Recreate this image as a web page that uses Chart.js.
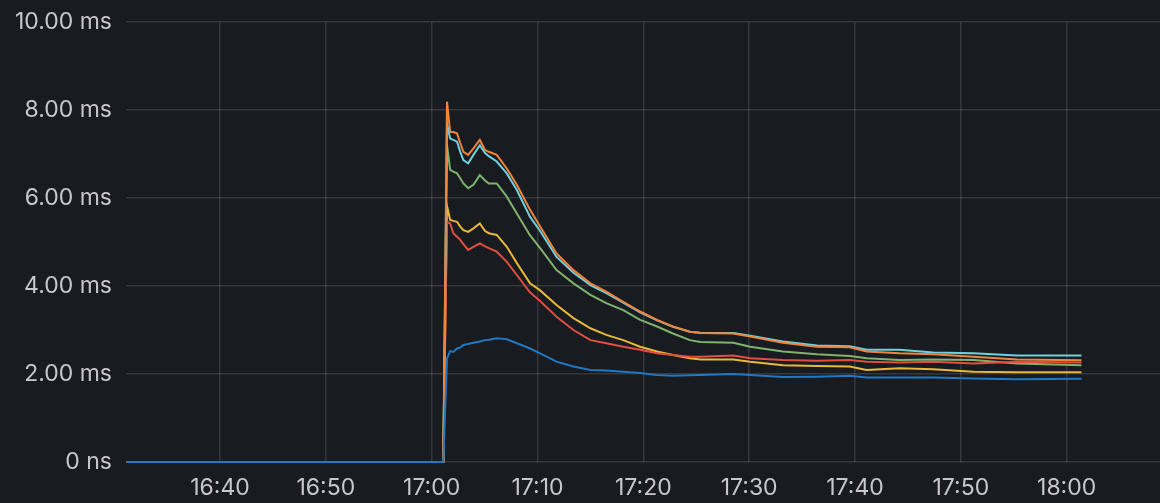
<!DOCTYPE html>
<html>
<head>
<meta charset="utf-8">
<script src="https://cdn.jsdelivr.net/npm/chart.js@4"></script>
<style>
  html, body { margin: 0; padding: 0; background: #181b1f; }
  canvas { display: block; }
</style>
</head>
<body>
<canvas id="latencyChart" width="1160" height="503"></canvas>
<script>
// minutes after 16:00
const minutes = [31.2, 61.1, 61.45, 61.75, 62.05, 62.4, 62.7, 63.0, 63.45, 63.95, 64.55, 65.05, 65.4, 66.15,
  67.1, 68.05, 69.3, 70.25, 71.8, 73.4, 75.0, 76.5, 78.1, 79.7, 81.3, 82.8, 84.4, 85.4, 88.5, 90.1,
  93.2, 96.4, 99.5, 101.1, 104.2, 107.4, 111.2, 115.3, 121.4];

// values in ms
const seriesOrange = [0, 0, 8.19, 7.5, 7.5, 7.47, 7.25, 7.05, 6.98, 7.13, 7.32, 7.09, 7.05, 6.98,
  6.67, 6.3, 5.73, 5.35, 4.74, 4.36, 4.06, 3.87, 3.64, 3.42, 3.23, 3.08, 2.96, 2.93, 2.92, 2.85,
  2.71, 2.62, 2.61, 2.51, 2.47, 2.45, 2.39, 2.33, 2.31];
const seriesLightBlue = [0, 0, 7.7, 7.35, 7.32, 7.28, 7.05, 6.86, 6.79, 6.98, 7.2, 7.02, 6.95, 6.83,
  6.56, 6.18, 5.57, 5.25, 4.66, 4.3, 4.02, 3.84, 3.62, 3.4, 3.22, 3.07, 2.96, 2.94, 2.93, 2.87,
  2.74, 2.65, 2.63, 2.55, 2.55, 2.49, 2.47, 2.42, 2.42];
const seriesGreen = [0, 0, 7.2, 6.64, 6.6, 6.56, 6.45, 6.33, 6.22, 6.3, 6.52, 6.4, 6.33, 6.33,
  6.03, 5.65, 5.15, 4.86, 4.36, 4.06, 3.8, 3.61, 3.45, 3.23, 3.08, 2.92, 2.77, 2.73, 2.71, 2.62,
  2.51, 2.45, 2.41, 2.36, 2.32, 2.33, 2.32, 2.24, 2.2];
const seriesYellow = [0, 0, 5.82, 5.5, 5.48, 5.46, 5.35, 5.27, 5.23, 5.31, 5.42, 5.25, 5.2, 5.16,
  4.89, 4.52, 4.06, 3.9, 3.57, 3.27, 3.04, 2.89, 2.77, 2.62, 2.51, 2.43, 2.36, 2.33, 2.33, 2.28,
  2.2, 2.18, 2.17, 2.09, 2.13, 2.11, 2.05, 2.04, 2.04];
const seriesRed = [0, 0, 5.46, 5.42, 5.2, 5.12, 5.05, 4.95, 4.82, 4.89, 4.97, 4.9, 4.86, 4.78,
  4.55, 4.25, 3.85, 3.66, 3.3, 3.0, 2.77, 2.7, 2.62, 2.55, 2.47, 2.43, 2.39, 2.39, 2.42, 2.36,
  2.32, 2.3, 2.32, 2.28, 2.26, 2.28, 2.24, 2.28, 2.26];
const seriesBlue = [0, 0, 2.35, 2.52, 2.5, 2.58, 2.6, 2.66, 2.68, 2.71, 2.74, 2.77, 2.78, 2.81,
  2.79, 2.7, 2.58, 2.47, 2.28, 2.17, 2.09, 2.08, 2.05, 2.02, 1.98, 1.96, 1.97, 1.98, 2.0, 1.98,
  1.93, 1.94, 1.96, 1.92, 1.92, 1.92, 1.9, 1.88, 1.89];

const xTicks = [40, 50, 60, 70, 80, 90, 100, 110, 120];
const yTicks = [0, 2, 4, 6, 8, 10];

const toPoints = (vals) => vals.map((v, i) => ({ x: minutes[i], y: v }));

function fmtTime(m) {
  const h = 16 + Math.floor(m / 60);
  const mm = Math.round(m % 60);
  return h + ':' + String(mm).padStart(2, '0');
}

const gridColor = 'rgba(204, 204, 220, 0.16)';
const textColor = '#c7c8cf';

// first dataset is drawn on top
const ctx = document.getElementById('latencyChart').getContext('2d');
new Chart(ctx, {
  type: 'line',
  data: {
    datasets: [
      { data: toPoints(seriesBlue), borderColor: '#1F78C1' },
      { data: toPoints(seriesOrange), borderColor: '#EF843C' },
      { data: toPoints(seriesLightBlue), borderColor: '#6ED0E0' },
      { data: toPoints(seriesRed), borderColor: '#E24D42' },
      { data: toPoints(seriesYellow), borderColor: '#EAB839' },
      { data: toPoints(seriesGreen), borderColor: '#7EB26D' }
    ].map(d => Object.assign(d, { borderWidth: 2, pointRadius: 0, tension: 0, fill: false, clip: 4 }))
  },
  options: {
    responsive: false,
    animation: false,
    devicePixelRatio: 1,
    layout: { padding: { top: 22, right: 0, left: 0, bottom: 0 } },
    plugins: { legend: { display: false }, tooltip: { enabled: false } },
    scales: {
      x: {
        type: 'linear',
        min: 31.12,
        max: 128.82,
        afterBuildTicks: (axis) => { axis.ticks = xTicks.map(v => ({ value: v })); },
        afterFit: (axis) => { axis.height = 41; axis.paddingLeft = 0; axis.paddingRight = 0; },
        grid: { color: gridColor, lineWidth: 1.5, drawTicks: false },
        border: { display: false },
        ticks: {
          color: textColor, padding: 12, maxRotation: 0,
          font: { family: 'Inter', size: 23 },
          callback: (v) => fmtTime(v)
        }
      },
      y: {
        min: 0,
        max: 10,
        afterBuildTicks: (axis) => { axis.ticks = yTicks.map(v => ({ value: v })); },
        afterFit: (axis) => { axis.width = 126; axis.paddingTop = 0; axis.paddingBottom = 0; },
        grid: { color: gridColor, lineWidth: 1.5, drawTicks: false },
        border: { display: false },
        ticks: {
          color: textColor, padding: 14,
          font: { family: 'Inter', size: 23 },
          callback: (v) => v === 0 ? '0 ns' : v.toFixed(2) + ' ms'
        }
      }
    }
  }
});
</script>
</body>
</html>
